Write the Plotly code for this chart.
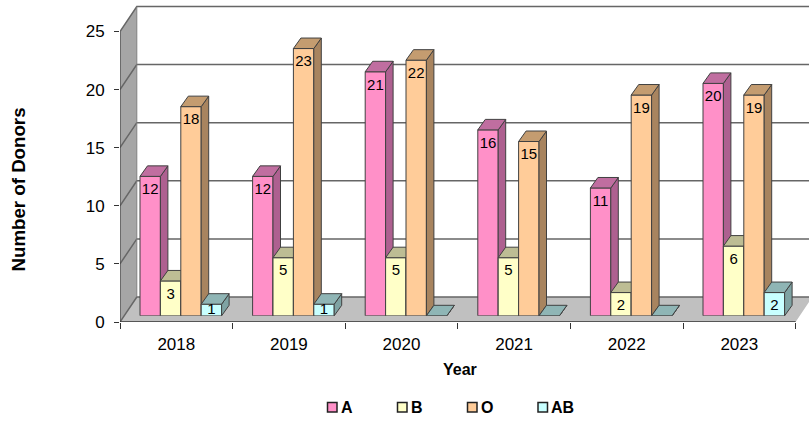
import plotly.graph_objects as go

# ---- data ----
years = ["2018", "2019", "2020", "2021", "2022", "2023"]
y_ticks = [0, 5, 10, 15, 20, 25]
series_names = ["A", "B", "O", "AB"]
a_values = [12, 12, 21, 16, 11, 20]
b_values = [3, 5, 5, 5, 2, 6]
o_values = [18, 23, 22, 15, 19, 19]
ab_values = [1, 1, 0, 0, 0, 2]
all_values = [a_values, b_values, o_values, ab_values]

front_colors = ["#FF90C8", "#FFFFC8", "#FFCC99", "#C8FFFF"]
top_colors = ["#C06EA0", "#BDBD94", "#C49C70", "#8FB5B5"]
side_colors = ["#AE6090", "#A8A888", "#A8845F", "#7FA3A3"]
EDGE = "#404040"

W, H = 809, 422
PL, PR, PT, PB = 120, 809, 4, 322       # plot rectangle in pixels
UX, UY = 112.6, 11.62                   # pixels per category / per donor
plot_w, plot_h = PR - PL, PB - PT
WALL_DX, WALL_DY = 16.8 / UX, 25 / UY   # depth of the room
BAR_DX, BAR_DY = 7.5 / UX, 10.5 / UY    # depth of one bar
BAR_W = 20.4 / UX
SHIFT_X, SHIFT_Y = 4.5, 6.2             # bar plane offset from the front plane
LABEL_DROP, LABEL_MIN = 14 / UY, 6 / UY # label position relative to bar top / base

fig = go.Figure()
x_left = -0.5
x_right = x_left + len(years)
x_end = x_left + plot_w / UX
y_end = plot_h / UY
top = y_ticks[-1]


def poly(x, y, fill, line=None, width=0, ax=("x", "y")):
    fig.add_trace(go.Scatter(x=x, y=y, mode="lines", fill="toself", fillcolor=fill,
                             line=dict(color=line or fill, width=width),
                             hoverinfo="skip", showlegend=False, cliponaxis=True,
                             xaxis=ax[0], yaxis=ax[1]))


def segs(x, y, color, width, clip=True):
    fig.add_trace(go.Scatter(x=x, y=y, mode="lines", line=dict(color=color, width=width),
                             hoverinfo="skip", showlegend=False, cliponaxis=clip))


# room: floor, side wall, grid, axis lines
poly([x_left, x_right, x_right + WALL_DX, x_end + 1, x_left + WALL_DX],
     [0, 0, WALL_DY, WALL_DY, WALL_DY], "#C0C0C0")
poly([x_left, x_left + WALL_DX, x_left + WALL_DX, x_left],
     [0, WALL_DY, top + WALL_DY, top], "#A6A6A6")
gx, gy = [], []
for t in y_ticks:
    gx += [x_left, x_left + WALL_DX, x_end + 1, None]
    gy += [t, t + WALL_DY, t + WALL_DY, None]
segs(gx, gy, "#666666", 1.5)
segs([x_left + WALL_DX, x_left + WALL_DX], [WALL_DY, top + WALL_DY], "#808080", 1)
segs([x_left, x_left], [0, top], "#444444", 1.2, clip=False)
segs([x_left, x_right], [0, 0], "#333333", 1.5, clip=False)

layout_axes = {}
label_font = dict(family="Liberation Sans", size=15, color="black")
for k, (name, vals) in enumerate(zip(series_names, all_values)):
    n = k + 2
    ax = (f"x{n}", f"y{n}")
    positions = list(range(len(years)))
    xs0 = [i + (k - 2) * BAR_W for i in positions]
    xs1 = [v + BAR_W for v in xs0]
    sx, sy, tx, ty = [], [], [], []
    for x0, x1, v in zip(xs0, xs1, vals):
        sx += [x1, x1, x1 + BAR_DX, x1 + BAR_DX, x1, None]
        sy += [0, v, v + BAR_DY, BAR_DY, 0, None]
        tx += [x0, x1, x1 + BAR_DX, x0 + BAR_DX, x0, None]
        ty += [v, v, v + BAR_DY, v + BAR_DY, v, None]
    poly(sx, sy, side_colors[k], EDGE, 1, ax)
    poly(tx, ty, top_colors[k], EDGE, 1, ax)
    fig.add_trace(go.Bar(
        x=positions, y=vals, name=name, width=BAR_W, offset=(k - 2) * BAR_W,
        marker=dict(color=front_colors[k], line=dict(color=EDGE, width=1)),
        showlegend=False, xaxis=ax[0], yaxis=ax[1]))
    fig.add_trace(go.Scatter(
        x=[x + BAR_W / 2 for x in xs0], y=[max(v - LABEL_DROP, LABEL_MIN) for v in vals],
        mode="text", text=[str(v) if v else "" for v in vals], textposition="middle center",
        textfont=label_font, hoverinfo="skip", showlegend=False, cliponaxis=False,
        xaxis=ax[0], yaxis=ax[1]))
    hidden = dict(visible=False, fixedrange=True)
    layout_axes[f"xaxis{n}"] = dict(
        hidden, anchor=ax[1], domain=[SHIFT_X / plot_w, 1],
        range=[x_left, x_left + (plot_w - SHIFT_X) / UX])
    layout_axes[f"yaxis{n}"] = dict(
        hidden, anchor=ax[0], domain=[SHIFT_Y / plot_h, 1],
        range=[0, (plot_h - SHIFT_Y) / UY])


def px(x):
    return (x - PL) / plot_w


def py(y):
    return (PB - y) / plot_h


shapes, annotations = [], []
annotations.append(dict(text="<b>Number of Donors</b>", x=px(18), y=py(189.5), xref="paper", yref="paper",
                        textangle=-90, showarrow=False, xanchor="center", yanchor="middle",
                        font=dict(family="Liberation Sans", size=18.7, color="black")))
annotations.append(dict(text="<b>Year</b>", x=px(460), y=py(369), xref="paper", yref="paper",
                        showarrow=False, xanchor="center", yanchor="middle",
                        font=dict(family="Liberation Sans", size=16, color="black")))
for name, color, sw in zip(series_names, front_colors, [327.5, 397.5, 467.5, 538]):
    shapes.append(dict(type="rect", xref="paper", yref="paper", x0=px(sw), x1=px(sw + 9.5),
                       y0=py(402.5), y1=py(412), fillcolor=color, line=dict(color="#222222", width=1.5)))
    annotations.append(dict(text=f"<b>{name}</b>", x=px(sw + 11), y=py(407), xref="paper", yref="paper",
                            showarrow=False, xanchor="left", yanchor="middle",
                            font=dict(family="Liberation Sans", size=16, color="black")))

fig.update_layout(
    width=W, height=H, autosize=False,
    margin=dict(l=PL, r=W - PR, t=PT, b=H - PB, pad=0),
    paper_bgcolor="white", plot_bgcolor="rgba(0,0,0,0)",
    barmode="overlay", showlegend=False, shapes=shapes, annotations=annotations,
    xaxis=dict(range=[x_left, x_end], tickmode="array",
               tickvals=list(range(len(years))), ticktext=years, ticks="", ticklabelstandoff=10,
               tickfont=dict(family="Liberation Sans", size=17, color="black"),
               showgrid=False, zeroline=False, showline=False, fixedrange=True,
               minor=dict(tickmode="array", tickvals=[x_left + i for i in range(len(years) + 1)],
                          ticks="outside", ticklen=6, tickcolor="#333333", tickwidth=1, showgrid=False)),
    yaxis=dict(range=[0, y_end], tickmode="array", tickvals=y_ticks,
               ticks="outside", ticklen=5, tickcolor="#333333", tickwidth=1, ticklabelstandoff=6,
               tickfont=dict(family="Liberation Sans", size=17, color="black"),
               showgrid=False, zeroline=False, showline=False, fixedrange=True),
    **layout_axes,
)
fig.write_html("out.html", config=dict(displayModeBar=False),
               post_script="document.body.style.margin='0';")
